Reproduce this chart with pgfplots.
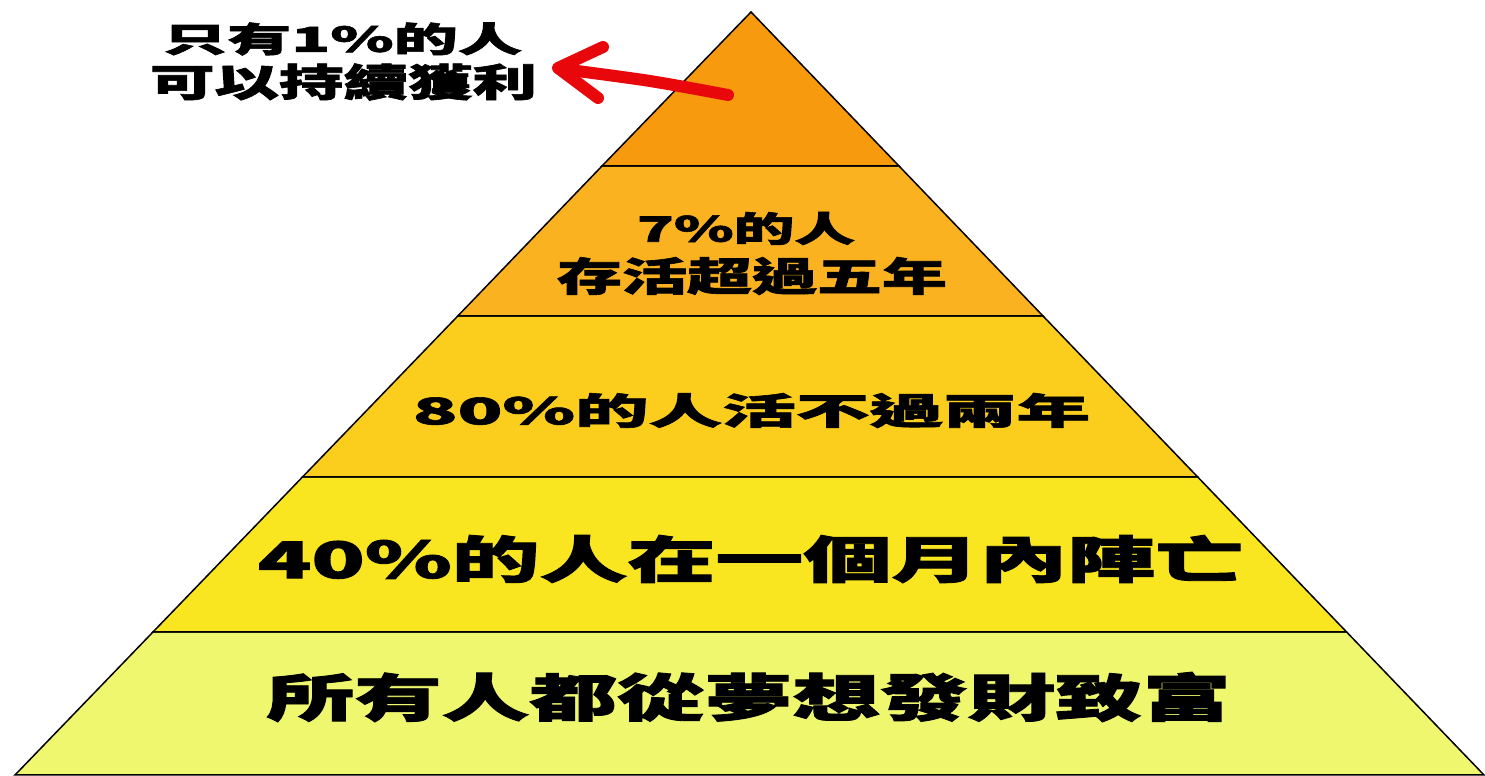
\documentclass[border=0pt]{standalone}
\usepackage{fontspec}
\usepackage{graphicx}
\usepackage{pgfplots}
\pgfplotsset{compat=1.18}
\newfontfamily\cjk{Noto Sans CJK TC}[BoldFeatures={FakeBold=1.6}]

\definecolor{lvA}{RGB}{248,154,14}
\definecolor{lvB}{RGB}{250,178,32}
\definecolor{lvC}{RGB}{251,205,28}
\definecolor{lvD}{RGB}{250,230,32}
\definecolor{lvE}{RGB}{239,247,110}
\definecolor{arrowred}{RGB}{232,8,12}

% text label: ink box set to given width and height (pt = px)
\newcommand{\lbl}[3]{\resizebox*{#1pt}{#2pt}{\cjk\bfseries #3}}

\begin{document}
\begin{tikzpicture}
\begin{axis}[
  scale only axis, width=1485pt, height=775pt,
  xmin=0, xmax=1485, ymin=0, ymax=775,
  hide axis, clip=false,
]
% background
\addplot[draw=none, fill=white] coordinates {(0,0) (1485,0) (1485,775) (0,775)} -- cycle;

% pyramid levels (y measured from bottom)
\addplot[fill=lvE, draw=black, line width=1.5pt] coordinates {(15,0) (1484,0) (1346.6,143) (153,143)} -- cycle;
\addplot[fill=lvD, draw=black, line width=1.5pt] coordinates {(153,143) (1346.6,143) (1197.7,298) (302.5,298)} -- cycle;
\addplot[fill=lvC, draw=black, line width=1.5pt] coordinates {(302.5,298) (1197.7,298) (1043,459) (457.8,459)} -- cycle;
\addplot[fill=lvB, draw=black, line width=1.5pt] coordinates {(457.8,459) (1043,459) (899,609) (602,609)} -- cycle;
\addplot[fill=lvA, draw=black, line width=1.5pt] coordinates {(602,609) (899,609) (751,763)} -- cycle;

% red arrow
\addplot[arrowred, line width=12pt, line cap=round, smooth] coordinates {(728,680) (650,694) (562,706)};
\addplot[arrowred, line width=12pt, line cap=round, line join=round] coordinates {(603,728) (558,707) (598,677)};

% labels
\node[inner sep=0] at (axis cs:748.5,78) {\lbl{964}{50}{所有人都從夢想發財致富}};
\node[inner sep=0] at (axis cs:750.5,216) {\lbl{985}{48}{40\%的人在一個月內陣亡}};
\node[inner sep=0] at (axis cs:751.5,364.5) {\lbl{677}{35}{80\%的人活不過兩年}};
\node[inner sep=0] at (axis cs:746,546.5) {\lbl{218}{33}{7\%的人}};
\node[inner sep=0] at (axis cs:752,499) {\lbl{390}{38}{存活超過五年}};
\node[inner sep=0] at (axis cs:342.5,736) {\lbl{359}{33}{只有1\%的人}};
\node[inner sep=0] at (axis cs:343.5,693) {\lbl{387}{37}{可以持續獲利}};
\end{axis}
\end{tikzpicture}
\end{document}
